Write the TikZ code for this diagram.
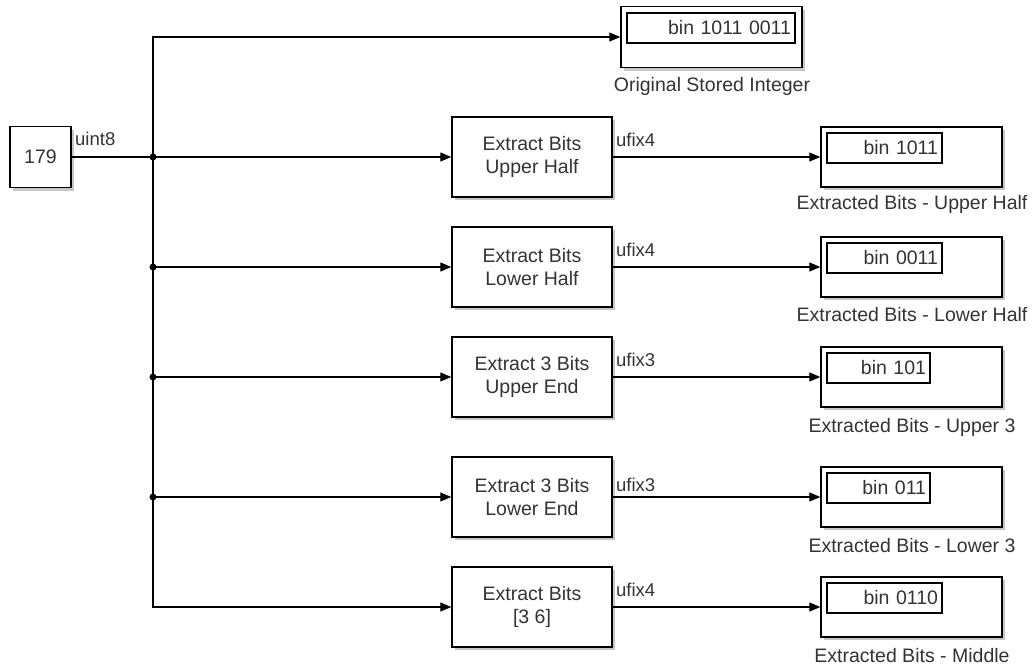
\documentclass[tikz,border=0pt]{standalone}
\usepackage{fontspec}
\setmainfont{Liberation Sans}
\usetikzlibrary{arrows.meta,shadows}
\begin{document}
\begin{tikzpicture}[x=1pt,y=-1pt,
  every node/.style={font=\fontsize{19.5}{23}\selectfont, text=black!80},
  blk/.style={draw=black, line width=1.4pt, fill=white, inner sep=0pt, align=center,
     general shadow={fill=black!22, shadow xshift=2.5pt, shadow yshift=-3pt}},
  xblk/.style={blk, minimum width=160pt, minimum height=80pt},
  disp/.style={blk, minimum width=181pt, minimum height=60pt},
  inner/.style={draw=black, line width=1.1pt, fill=white, inner sep=0pt, minimum height=30pt, text width=#1, align=right},
  sig/.style={line width=1.1pt, draw=black},
  arr/.style={sig, -{Triangle[length=11pt,width=9pt]}},
  sl/.style={anchor=base west, inner sep=0pt, font=\fontsize{18.5}{20}\selectfont},
  captxt/.style={anchor=north, inner sep=0pt}
]
\useasboundingbox (0,0) rectangle (1033,667);

% source
\node[blk, minimum width=61pt, minimum height=61pt] (src) at (40.5,157) {179};

% display original
\node[disp, minimum height=61pt] (orig) at (711.5,37) {};
\node[inner=168pt] (origin) at (711,28) {bin 1011 0011\hspace*{4pt}};
\node[captxt] (origcap) at (712,77) {Original Stored Integer};

% extract blocks
\node[xblk] (e1) at (532,157) {Extract Bits\\Upper Half};
\node[xblk] (e2) at (532,267) {Extract Bits\\Lower Half};
\node[xblk] (e3) at (532,377) {Extract 3 Bits\\Upper End};
\node[xblk] (e4) at (532,497) {Extract 3 Bits\\Lower End};
\node[xblk] (e5) at (532,607) {Extract Bits\\{}[3 6]};

% displays
\node[disp] (d1) at (911.5,157) {};
\node[inner=115pt] (i1) at (884.5,148) {bin 1011\hspace*{4pt}};
\node[captxt] (c1) at (912,195) {Extracted Bits - Upper Half};

\node[disp] (d2) at (911.5,267) {};
\node[inner=115pt] (i2) at (884.5,258) {bin 0011\hspace*{4pt}};
\node[captxt] (c2) at (912,307) {Extracted Bits - Lower Half};

\node[disp] (d3) at (911.5,377) {};
\node[inner=103pt] (i3) at (878.5,368) {bin 101\hspace*{4pt}};
\node[captxt] (c3) at (912,418) {Extracted Bits - Upper 3};

\node[disp] (d4) at (911.5,497) {};
\node[inner=103pt] (i4) at (878.5,488) {bin 011\hspace*{4pt}};
\node[captxt] (c4) at (912,538) {Extracted Bits - Lower 3};

\node[disp] (d5) at (911.5,607) {};
\node[inner=115pt] (i5) at (884.5,598) {bin 0110\hspace*{4pt}};
\node[captxt] (c5) at (912,648) {Extracted Bits - Middle};

% branch coordinates
\coordinate (top) at (153,37);
\coordinate (j1) at (153,157);
\coordinate (j2) at (153,267);
\coordinate (j3) at (153,377);
\coordinate (j4) at (153,497);
\coordinate (bot) at (153,607);

% wires
\draw[sig] (src.east) -- (j1);
\draw[sig, line cap=rect] (top) -- (bot);
\draw[arr] (top) -- (orig.west);
\draw[arr] (j1) -- (e1.west);
\draw[arr] (j2) -- (e2.west);
\draw[arr] (j3) -- (e3.west);
\draw[arr] (j4) -- (e4.west);
\draw[arr] (bot) -- (e5.west);
\foreach \j in {j1,j2,j3,j4} \fill (\j) circle (3.5pt);

\draw[arr] (e1.east) -- (d1.west);
\draw[arr] (e2.east) -- (d2.west);
\draw[arr] (e3.east) -- (d3.west);
\draw[arr] (e4.east) -- (d4.west);
\draw[arr] (e5.east) -- (d5.west);

% signal labels
\node[sl] (l0) at (75,145) {uint8};
\node[sl] (l1) at (616,146) {ufix4};
\node[sl] (l2) at (616,256) {ufix4};
\node[sl] (l3) at (616,366) {ufix3};
\node[sl] (l4) at (616,491) {ufix3};
\node[sl] (l5) at (616,596) {ufix4};
\end{tikzpicture}
\end{document}
